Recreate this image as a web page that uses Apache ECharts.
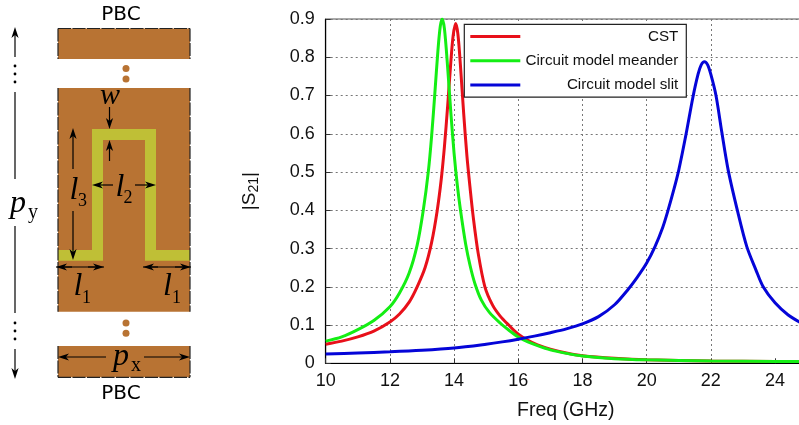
<!DOCTYPE html>
<html><head><meta charset="utf-8">
<style>html,body{margin:0;padding:0;background:#fff}#c{width:799px;height:425px}</style>
<script src="https://cdn.jsdelivr.net/npm/echarts@6/dist/echarts.min.js"></script>
</head><body><div id="c"></div>
<script>
const seriesNames = ['CST', 'Circuit model meander', 'Circuit model slit'];
const xTickLabels = [10, 12, 14, 16, 18, 20, 22, 24];
const cstFreq = [10,10.5,11,11.5,12,12.3,12.6,12.85,13.1,13.3,13.47,13.6,13.7,13.8,13.9,13.97,14.05,14.12,14.2,14.3,14.4,14.5,14.6,14.75,14.96,15.2,15.43,15.7,16,16.3,16.6,17,17.5,18,19,20,22,24,24.84];
const cstS21 = [0.05,0.058,0.069,0.084,0.108,0.129,0.16,0.2,0.251,0.316,0.397,0.481,0.567,0.673,0.789,0.856,0.888,0.86,0.776,0.652,0.542,0.457,0.38,0.288,0.2,0.152,0.124,0.1,0.076,0.06,0.048,0.037,0.027,0.02,0.013,0.009,0.006,0.005,0.005];
const meanderFreq = [10,10.5,11,11.5,12,12.3,12.6,12.85,13.04,13.2,13.3,13.4,13.5,13.57,13.63,13.7,13.8,13.9,14,14.1,14.2,14.36,14.5,14.65,14.85,15.1,15.45,15.7,16,16.3,16.6,17,17.5,18,19,20,22,24,24.84];
const meanderS21 = [0.058,0.069,0.088,0.112,0.148,0.184,0.236,0.309,0.4,0.503,0.594,0.705,0.821,0.881,0.9,0.874,0.773,0.654,0.549,0.466,0.4,0.312,0.255,0.208,0.165,0.133,0.104,0.087,0.069,0.056,0.046,0.035,0.026,0.019,0.012,0.009,0.006,0.005,0.005];
const slitFreq = [10,11,12,13,14,15,15.5,16,16.5,17,17.5,18,18.5,19,19.42,19.7,20,20.26,20.5,20.65,20.85,21,21.23,21.44,21.6,21.7,21.8,21.9,22,22.16,22.34,22.54,22.84,23.12,23.4,23.63,24,24.4,24.84];
const slitS21 = [0.024,0.027,0.03,0.034,0.04,0.05,0.056,0.063,0.071,0.08,0.09,0.103,0.122,0.153,0.193,0.224,0.262,0.305,0.355,0.395,0.455,0.505,0.6,0.695,0.755,0.78,0.788,0.78,0.755,0.7,0.605,0.505,0.395,0.305,0.245,0.2,0.158,0.127,0.104];

const pairs = (xs, ys) => xs.map((x, i) => [x, ys[i]]);
const brown = '#b87333', trace = '#bfbf36';

function arrow(x1, y1, x2, y2, out) {
  const a = Math.atan2(y2 - y1, x2 - x1), c = Math.cos(a), s = Math.sin(a);
  const L = 11, W = 3.6, N = 8;
  out.push({type:'line', shape:{x1, y1, x2:x2 - c*N, y2:y2 - s*N}, style:{stroke:'#000', lineWidth:1.2}});
  out.push({type:'polygon', shape:{points:[[x2,y2],[x2-c*L-s*W,y2-s*L+c*W],[x2-c*N,y2-s*N],[x2-c*L+s*W,y2-s*L-c*W]]}, style:{fill:'#000'}});
}
function label(x, y, text, size, italic, out) {
  out.push({type:'text', x, y, style:{text, fill:'#000', font:(italic?'italic ':'')+size+'px "Liberation Serif"', align:'center', verticalAlign:'middle'}});
}
function diagram() {
  const g = [];
  [[58,28.5,132,30.5],[58,88,132,223.7],[58,346,132,31.3]].forEach(r => g.push({type:'rect', shape:{x:r[0],y:r[1],width:r[2],height:r[3]}, style:{fill:brown}}));
  [[126,68.5],[126,79],[126,323],[126,333.3]].forEach(p => g.push({type:'circle', shape:{cx:p[0],cy:p[1],r:3.5}, style:{fill:brown}}));
  g.push({type:'polygon', shape:{points:[[58,250],[92,250],[92,129],[156,129],[156,250],[190,250],[190,260.7],[145,260.7],[145,140],[103,140],[103,260.7],[58,260.7]]}, style:{fill:trace}});
  [[58,28.5,190,28.5],[58,377.3,190,377.3],[58,28.5,58,59],[190,28.5,190,59],[58,88,58,311.7],[190,88,190,311.7],[58,346,58,377.3],[190,346,190,377.3]].forEach(l =>
    g.push({type:'line', shape:{x1:l[0],y1:l[1],x2:l[2],y2:l[3]}, style:{stroke:'#222', lineWidth:1.2, lineDash:[13,1.5]}}));
  [[15,57,15,27],[15,349,15,379],[109.5,107,109.5,129],[109.5,161,109.5,140],[73,169,73,128],[73,211,73,260],
   [113,185,92,185],[135,185,156,185],[72,267,56,267],[88,267,104,267],[158,267,143,267],[175,267,191,267],[106,357,58,357],[144,357,190,357]]
    .forEach(a => arrow(a[0],a[1],a[2],a[3],g));
  g.push({type:'line', shape:{x1:15,y1:92,x2:15,y2:179}, style:{stroke:'#000',lineWidth:1.2}});
  g.push({type:'line', shape:{x1:15,y1:226,x2:15,y2:313}, style:{stroke:'#000',lineWidth:1.2}});
  g.push({type:'line', shape:{x1:56,y1:267,x2:104,y2:267}, style:{stroke:'#000',lineWidth:1.2}});
  g.push({type:'line', shape:{x1:143,y1:267,x2:191,y2:267}, style:{stroke:'#000',lineWidth:1.2}});
  [66,74,82,323,331,339].forEach(y => g.push({type:'circle', shape:{cx:15,cy:y,r:1.4}, style:{fill:'#000'}}));
  [[121,15],[121,394]].forEach(p => g.push({type:'text', x:p[0], y:p[1], style:{text:'PBC', fill:'#000', font:'20px "DejaVu Sans"', align:'center', verticalAlign:'middle'}}));
  label(18,204,'p',32,true,g); label(33,213,'y',20,false,g);
  label(110,96,'w',30,true,g);
  label(74,191,'l',32,true,g); label(82.5,201,'3',18,false,g);
  label(120,188,'l',32,true,g); label(128,198,'2',18,false,g);
  label(78,287,'l',32,true,g); label(86.5,298,'1',18,false,g);
  label(167.5,287,'l',32,true,g); label(176.5,298,'1',18,false,g);
  label(121,357,'p',32,true,g); label(136,366,'x',20,false,g);
  return g;
}

const chart = echarts.init(document.getElementById('c'), null, {renderer:'canvas'});
const txt = {color:'#111', fontFamily:'"Liberation Sans"', fontSize:18};
const dotted = {show:true, lineStyle:{type:[2,3], color:'#777', width:1}};
const colors = ['#e8101a', '#14ee14', '#0505d8'];
const datasets = [pairs(cstFreq,cstS21), pairs(meanderFreq,meanderS21), pairs(slitFreq,slitS21)];
chart.setOption({
  animation:false,
  grid:{left:325.7, top:19, height:344.3, right:-3, show:true, borderColor:'#555', borderWidth:1, backgroundColor:'transparent', outerBoundsMode:'none'},
  xAxis:{type:'value', min:10, max:24.84, interval:2, name:'Freq (GHz)', nameLocation:'middle', nameGap:37,
    nameTextStyle:{...txt, fontSize:19.5, padding:[0,0,0,4]},
    axisLine:{lineStyle:{color:'#000',width:1.2}}, axisTick:{inside:true,length:5,lineStyle:{color:'#333'},customValues:xTickLabels},
    axisLabel:{...txt, margin:9, customValues:xTickLabels}, splitLine:{...dotted, showMaxLine:false}},
  yAxis:{type:'value', min:0, max:0.9, interval:0.1,
    name:'|S{s|21}|', nameLocation:'middle', nameGap:65, nameRotate:90,
    nameTextStyle:{...txt, fontSize:19, rich:{s:{...txt, fontSize:14, padding:[7,0,0,0]}}},
    axisLine:{show:true,lineStyle:{color:'#000',width:1.2}}, axisTick:{show:true,inside:true,length:5,lineStyle:{color:'#333'}},
    axisLabel:{...txt, margin:11}, splitLine:dotted},
  legend:{left:464.3, top:24.3, orient:'vertical', padding:[0,8,0,6], itemGap:0, itemWidth:50, itemHeight:3,
    backgroundColor:'#fff', borderColor:'#222', borderWidth:1.2, borderRadius:0,
    data:seriesNames.map(name=>({name, icon:'rect'})), formatter:n => '{a|'+n+'}',
    textStyle:{...txt, fontSize:15.2, rich:{a:{...txt, fontSize:15.2, width:153, align:'right', height:24.3, lineHeight:24.3}}}},
  series:seriesNames.map((name,i)=>({name, type:'line', data:datasets[i], symbol:'none', smooth:0.3, lineStyle:{color:colors[i], width:3}, itemStyle:{color:colors[i]}, z:2+i})),
  graphic:{elements:diagram()}
});
</script></body></html>
